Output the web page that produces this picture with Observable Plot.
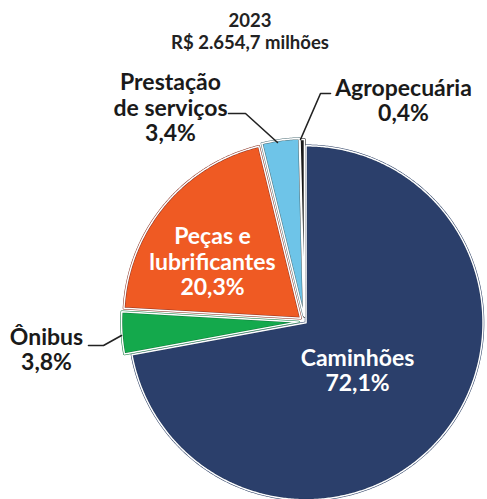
<!DOCTYPE html>
<html><head><meta charset="utf-8">
<script src="https://cdn.jsdelivr.net/npm/d3@7"></script>
<script src="https://cdn.jsdelivr.net/npm/@observablehq/plot@0.6"></script>
<style>body{margin:0;background:#fff}</style>
</head><body><div id="chart"></div>
<script>
const titleLines = ["2023", "R$ 2.654,7 milhões"];
const categories = ["Caminhões", "Ônibus", "Peças e\nlubrificantes", "Prestação\nde serviços", "Agropecuária"];
const values = [72.1, 3.8, 20.3, 3.4, 0.4];
const valueLabels = ["72,1%", "3,8%", "20,3%", "3,4%", "0,4%"];

// layout
const W = 487, H = 499, cx = 304, cy = 321, R = 177;
const fills = ["#2b3f6b", "#14a94c", "#ef5a23", "#6ec4e8", "#1b1b1b"];
const edges = ["#263a60", "#0e7a3a", "#8a3020", "#4e6e76", "#111111"];
const explode = [2, 6, 5, 6, 5];
const textColor = ["#ffffff", "#1a1a1a", "#ffffff", "#1a1a1a", "#1a1a1a"];
// label positions (pixel layout) and leader lines
const labelPos = [[357, 370], [46, 349], [212, 261], [170, 107], [403, 100]];
const leaders = [null, [[88, 345], [103, 345], [121, 335]], null,
  [[228, 113], [245, 113], [277, 142]], [[330, 93], [320, 93], [300, 139]]];

const total = d3.sum(values);
let cum = 0;
const slices = values.map((v, i) => {
  const a0 = cum / total * 2 * Math.PI;
  cum += v;
  const a1 = cum / total * 2 * Math.PI;
  const mid = (a0 + a1) / 2;
  const ox = explode[i] * Math.sin(mid), oy = -explode[i] * Math.cos(mid);
  const pts = [{x: cx + ox, y: cy + oy}];
  const n = Math.max(2, Math.ceil((a1 - a0) / (Math.PI / 360)));
  for (let k = 0; k <= n; k++) {
    const a = a0 + (a1 - a0) * k / n;
    pts.push({x: cx + ox + R * Math.sin(a), y: cy + oy - R * Math.cos(a)});
  }
  return pts;
});

const font = "Lato, 'Open Sans', sans-serif";
const labelData = categories.map((c, i) => ({
  x: labelPos[i][0], y: labelPos[i][1],
  text: c + "\n" + valueLabels[i], color: textColor[i]
}));

const marks = [];
slices.forEach((pts, i) => {
  marks.push(Plot.line(pts, {x: "x", y: "y", fill: fills[i], stroke: edges[i], strokeWidth: 2.5, curve: "linear-closed"}));
});
slices.forEach((pts, i) => {
  marks.push(Plot.line(pts, {x: "x", y: "y", fill: "none", stroke: "white", strokeWidth: 1.5, curve: "linear-closed"}));
});
leaders.forEach(l => {
  if (l) marks.push(Plot.line(l.map(([x, y]) => ({x, y})), {x: "x", y: "y", stroke: "#222", strokeWidth: 1.6}));
});
marks.push(Plot.text(labelData, {x: "x", y: "y", text: "text", fill: "color", fontSize: 23, fontWeight: "bold", fontFamily: font, lineHeight: 1.1}));
marks.push(Plot.text(titleLines.map((t, i) => ({t, i})), {x: () => W / 2 + 6, y: d => 21 + d.i * 22, text: "t", fontSize: 18.5, fontWeight: "bold", fontFamily: font, fill: "#222"}));

const chart = Plot.plot({
  width: W, height: H, margin: 0,
  x: {domain: [0, W], range: [0, W], axis: null},
  y: {domain: [0, H], range: [0, H], axis: null},
  marks
});
document.getElementById("chart").append(chart);
</script></body></html>
